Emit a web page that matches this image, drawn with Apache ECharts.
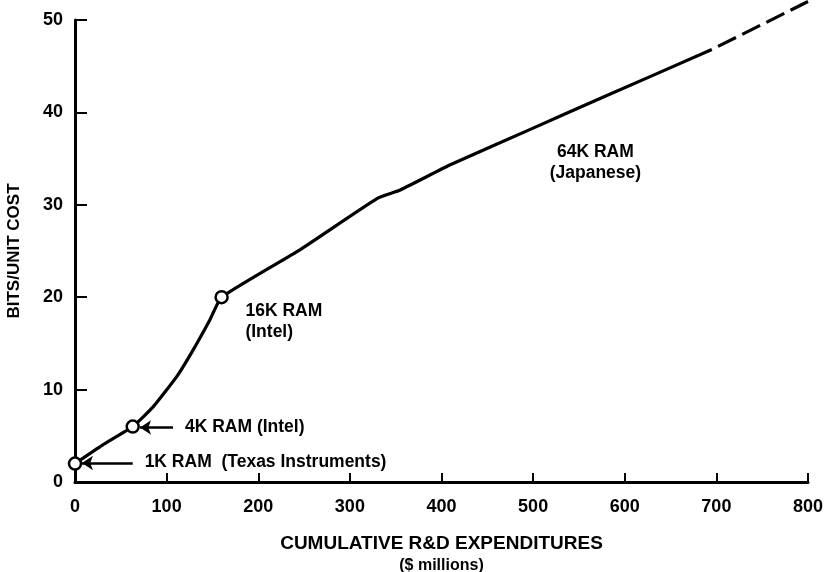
<!DOCTYPE html>
<html>
<head>
<meta charset="utf-8">
<script src="https://cdn.jsdelivr.net/npm/echarts@6/dist/echarts.min.js"></script>
<style>html,body{margin:0;padding:0;background:#fff;}#c{width:830px;height:572px;}</style>
</head>
<body>
<div id="c"></div>
<script>
// Cumulative R&D expenditures ($ millions) vs bits/unit cost
const solidX = [0, 30, 63, 85, 111, 129, 147, 160, 245, 330, 355, 409, 500, 573, 695];
const solidY = [2, 4, 6, 8.1, 11.4, 14.3, 17.5, 20, 25.1, 30.7, 31.6, 34.3, 38.3, 41.5, 46.8];
const dashedX = [695, 800];
const dashedY = [46.8, 52];
const milestoneX = [0, 63, 160];
const milestoneY = [2, 6, 20];
const xTicks = [0, 100, 200, 300, 400, 500, 600, 700, 800];
const yTicks = [0, 10, 20, 30, 40, 50];
const annotTexts = ['1K RAM  (Texas Instruments)', '4K RAM (Intel)', '16K RAM\n(Intel)', '64K RAM\n(Japanese)'];
const annotX = [76, 120, 186, 568];
const annotY = [2.1, 5.9, 17.3, 34.6];
const annotAlign = ['left', 'left', 'left', 'center'];
const arrowFromX = [63, 107];
const arrowToX = [7.6, 71];
const arrowY = [2.06, 5.9];

const FONT = '"Liberation Sans", Arial, sans-serif';
const INK = '#000';

const chart = echarts.init(document.getElementById('c'), null, {renderer: 'canvas'});
const zip = (a, b) => a.map((v, i) => [v, b[i]]);

chart.setOption({
  animation: false,
  backgroundColor: '#fff',
  textStyle: {fontFamily: FONT, color: INK},
  grid: {left: 75, right: 22, top: 20, bottom: 90, containLabel: false, outerBoundsMode: 'none'},
  xAxis: {
    type: 'value', min: 0, max: 800, interval: 100,
    axisLine: {show: true, lineStyle: {color: INK, width: 3}},
    axisTick: {show: true, inside: true, length: 9, lineStyle: {color: INK, width: 2}},
    splitLine: {show: false},
    axisLabel: {color: INK, fontSize: 18, fontWeight: 'bold', fontFamily: FONT, margin: 16,
      formatter: v => xTicks.includes(v) ? String(v) : ''},
    name: '{a|CUMULATIVE R&D EXPENDITURES}\n{b|($ millions)}',
    nameLocation: 'middle', nameGap: 50,
    nameTextStyle: {rich: {
      a: {fontSize: 19, fontWeight: 'bold', fontFamily: FONT, color: INK, lineHeight: 24},
      b: {fontSize: 16, fontWeight: 'bold', fontFamily: FONT, color: INK, lineHeight: 19}
    }}
  },
  yAxis: {
    type: 'value', min: 0, max: 50, interval: 10,
    axisLine: {show: true, lineStyle: {color: INK, width: 3}},
    axisTick: {show: true, inside: true, length: 12, lineStyle: {color: INK, width: 2}},
    splitLine: {show: false},
    axisLabel: {color: INK, fontSize: 18, fontWeight: 'bold', fontFamily: FONT, margin: 12,
      formatter: v => yTicks.includes(v) ? String(v) : ''},
    name: 'BITS/UNIT COST', nameLocation: 'middle', nameGap: 52,
    nameTextStyle: {fontSize: 17, fontWeight: 'bold', fontFamily: FONT, color: INK}
  },
  series: [
    {
      type: 'line', data: zip(solidX, solidY), smooth: 0.15,
      showSymbol: false, lineStyle: {color: INK, width: 3.2}, z: 2, clip: false,
      markLine: {
        silent: true, symbol: ['none', 'arrow'], symbolSize: 11,
        lineStyle: {color: INK, width: 2.5, type: 'solid'}, label: {show: false},
        data: arrowFromX.map((x, i) => [{coord: [x, arrowY[i]]}, {coord: [arrowToX[i], arrowY[i]]}])
      }
    },
    {
      type: 'line', data: zip(dashedX, dashedY), showSymbol: false, clip: false,
      lineStyle: {color: INK, width: 3.2, type: [20, 7], dashOffset: 20}, z: 2
    },
    {
      type: 'scatter', data: zip(milestoneX, milestoneY), symbol: 'circle', symbolSize: 12,
      itemStyle: {color: '#fff', borderColor: INK, borderWidth: 2.5, opacity: 1}, z: 5, clip: false
    },
    {
      type: 'scatter', symbolSize: 0, z: 6, silent: true, itemStyle: {opacity: 1},
      data: annotTexts.map((t, i) => ({
        value: [annotX[i], annotY[i]],
        label: {show: true, position: 'inside', formatter: t, align: annotAlign[i],
          verticalAlign: 'middle', fontSize: 17.5, fontWeight: 'bold', fontFamily: FONT,
          color: INK, lineHeight: 21}
      }))
    }
  ]
});
</script>
</body>
</html>
